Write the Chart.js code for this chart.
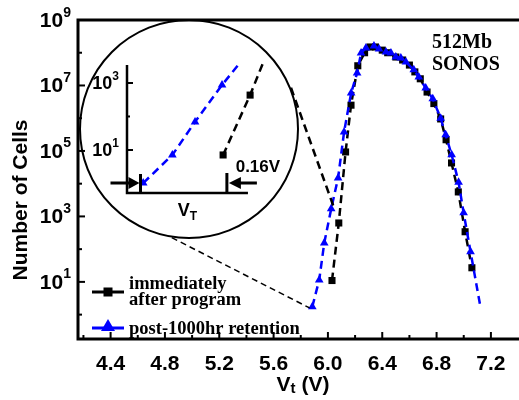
<!DOCTYPE html>
<html lang="en">
<head>
<meta charset="UTF-8">
<title>512Mb SONOS Vt distribution</title>
<style>
body { margin: 0; background: #fff; }
#wrap { position: relative; width: 519px; height: 400px; }
#inset { position: absolute; left: 79px; top: 19px; border-radius: 50%; }
</style>
</head>
<body>
<div id="wrap">
    <canvas id="main" width="519" height="400"></canvas>
    <canvas id="inset" width="220" height="220"></canvas>
</div>
<script src="https://cdn.jsdelivr.net/npm/chart.js@4/dist/chart.umd.min.js"></script>
<script>
// immediately after program
var blackVt    = [6.03, 6.08, 6.13, 6.17, 6.22, 6.27, 6.31, 6.35, 6.40, 6.44, 6.50, 6.55, 6.60, 6.64, 6.68, 6.73, 6.78, 6.83, 6.87, 6.91, 6.96, 7.01, 7.06];
var blackCells = [11, 630, 9.3e4, 2.5e6, 4.0e7, 1.0e8, 1.5e8, 1.5e8, 1.2e8, 1.0e8, 7.4e7, 6.0e7, 4.2e7, 2.6e7, 1.6e7, 6.3e6, 2.8e6, 9.5e5, 2.2e5, 4.3e4, 5.6e3, 340, 27];
// post-1000hr retention
var blueVt    = [5.885, 5.936, 5.973, 6.024, 6.075, 6.119, 6.171, 6.215, 6.244, 6.28, 6.339, 6.376, 6.427, 6.464, 6.50, 6.537, 6.574, 6.632, 6.669, 6.72, 6.772, 6.83, 6.867, 6.911, 6.962, 6.999, 7.05, 7.12];
var blueCells = [1.74, 11.5, 155, 1700, 1.5e4, 3.8e5, 5.9e6, 2.4e7, 9.8e7, 1.4e8, 1.6e8, 1.3e8, 1.05e8, 9.8e7, 7.4e7, 6.9e7, 5.2e7, 3.0e7, 1.8e7, 8.3e6, 3.9e6, 1.0e6, 3.1e5, 7.6e4, 1.1e4, 1300, 83, 2];

var xTickLabels = [4.4, 4.8, 5.2, 5.6, 6.0, 6.4, 6.8, 7.2];
var xMinorTicks = [4.2, 4.6, 5.0, 5.4, 5.8, 6.2, 6.6, 7.0];
var yTickExps = [1, 3, 5, 7, 9];
var yMinorExps = [0, 2, 4, 6, 8];

// inset (zoom of the low tail)
var insetBlueVt    = [5.880, 5.934, 5.976, 6.026, 6.056];
var insetBlueCells = [1.03, 7.1, 69, 870, 3440];
var insetBlackVt    = [6.028, 6.078, 6.102];
var insetBlackCells = [7.1, 435, 4000];
var insetYTickExps = [1, 3];
var insetShift = [5.875, 6.035];
var insetAxisEnd = 6.074;

var BLUE = 'rgb(0,0,255)';
var SANS = '"Liberation Sans", Arial, sans-serif';
var SERIF = '"Liberation Serif", "Times New Roman", serif';

function pts(xs, ys) {
    return xs.map(function (v, i) { return {x: v, y: ys[i]}; });
}

function powLabel(ctx, exp, right, base, size, expSize) {
    ctx.font = 'bold ' + size + 'px ' + SANS;
    var w1 = ctx.measureText('10').width;
    ctx.font = 'bold ' + expSize + 'px ' + SANS;
    var w2 = ctx.measureText(String(exp)).width;
    ctx.textAlign = 'left';
    ctx.textBaseline = 'alphabetic';
    ctx.font = 'bold ' + size + 'px ' + SANS;
    ctx.fillText('10', right - w2 - w1, base);
    ctx.font = 'bold ' + expSize + 'px ' + SANS;
    ctx.fillText(String(exp), right - w2, base - size * 0.5);
}

var mainDecor = {
    id: 'mainDecor',
    afterDraw: function (chart) {
        var ctx = chart.ctx, a = chart.chartArea;
        var xs = chart.scales.x, ys = chart.scales.y;
        ctx.save();
        ctx.strokeStyle = '#000';
        ctx.fillStyle = '#000';

        // frame (right side runs off the picture)
        ctx.lineWidth = 3;
        ctx.beginPath();
        ctx.moveTo(chart.width, a.top);
        ctx.lineTo(a.left, a.top);
        ctx.lineTo(a.left, a.bottom);
        ctx.lineTo(chart.width, a.bottom);
        ctx.stroke();

        // x ticks
        ctx.lineWidth = 2;
        xTickLabels.forEach(function (v) {
            var px = xs.getPixelForValue(v);
            ctx.beginPath(); ctx.moveTo(px, a.bottom); ctx.lineTo(px, a.bottom - 7); ctx.stroke();
            ctx.font = 'bold 21px ' + SANS;
            ctx.textAlign = 'center';
            ctx.textBaseline = 'alphabetic';
            ctx.fillText(v.toFixed(1), px, 370);
        });
        xMinorTicks.forEach(function (v) {
            var px = xs.getPixelForValue(v);
            ctx.beginPath(); ctx.moveTo(px, a.bottom); ctx.lineTo(px, a.bottom - 4); ctx.stroke();
        });

        // y ticks
        yTickExps.forEach(function (e) {
            var py = ys.getPixelForValue(Math.pow(10, e));
            ctx.beginPath(); ctx.moveTo(a.left, py); ctx.lineTo(a.left + 7, py); ctx.stroke();
            powLabel(ctx, e, 71, py + 7, 21, 14);
        });
        yMinorExps.forEach(function (e) {
            var py = ys.getPixelForValue(Math.pow(10, e));
            ctx.beginPath(); ctx.moveTo(a.left, py); ctx.lineTo(a.left + 4, py); ctx.stroke();
        });

        // axis titles
        ctx.font = 'bold 21px ' + SANS;
        var wV = ctx.measureText('V').width, wP = ctx.measureText(' (V)').width;
        ctx.font = 'bold 15px ' + SANS;
        var wt = ctx.measureText('t').width;
        var x0 = 303 - (wV + wt + wP) / 2;
        ctx.textAlign = 'left';
        ctx.font = 'bold 21px ' + SANS;
        ctx.fillText('V', x0, 391);
        ctx.font = 'bold 15px ' + SANS;
        ctx.fillText('t', x0 + wV, 393);
        ctx.font = 'bold 21px ' + SANS;
        ctx.fillText(' (V)', x0 + wV + wt, 391);

        ctx.save();
        ctx.translate(27, 200);
        ctx.rotate(-Math.PI / 2);
        ctx.textAlign = 'center';
        ctx.fillText('Number of Cells', 0, 0);
        ctx.restore();

        // device label
        ctx.font = 'bold 20px ' + SERIF;
        ctx.textAlign = 'left';
        ctx.fillText('512Mb', 432, 48);
        ctx.fillText('SONOS', 432, 70);

        // legend
        ctx.lineWidth = 3;
        ctx.setLineDash([]);
        ctx.beginPath(); ctx.moveTo(92, 292); ctx.lineTo(124, 292); ctx.stroke();
        ctx.fillRect(103.5, 287.5, 9, 9);
        ctx.strokeStyle = BLUE; ctx.fillStyle = BLUE;
        ctx.beginPath(); ctx.moveTo(92, 328); ctx.lineTo(124, 328); ctx.stroke();
        ctx.beginPath(); ctx.moveTo(108, 319); ctx.lineTo(115, 331); ctx.lineTo(101, 331); ctx.closePath(); ctx.fill();
        ctx.fillStyle = '#000'; ctx.strokeStyle = '#000';
        ctx.font = 'bold 18.5px ' + SERIF;
        ctx.fillText('immediately', 129, 289);
        ctx.fillText('after program', 129, 305);
        ctx.fillText('post-1000hr retention', 129, 334);

        // magnifier circle and guide lines
        var cx = 189, cy = 129, r = 109;
        ctx.lineWidth = 2;
        ctx.beginPath(); ctx.arc(cx, cy, r, 0, Math.PI * 2); ctx.stroke();

        ctx.setLineDash([8, 5]);
        ctx.lineWidth = 2.5;
        var g1 = -22 * Math.PI / 180;
        ctx.beginPath();
        ctx.moveTo(cx + (r + 1) * Math.cos(g1), cy + (r + 1) * Math.sin(g1));
        ctx.lineTo(xs.getPixelForValue(6.05), ys.getPixelForValue(1600));
        ctx.stroke();

        ctx.setLineDash([6, 4]);
        ctx.lineWidth = 1.5;
        var g2 = 99 * Math.PI / 180;
        ctx.beginPath();
        ctx.moveTo(cx + (r + 1) * Math.cos(g2), cy + (r + 1) * Math.sin(g2));
        ctx.lineTo(xs.getPixelForValue(5.865), ys.getPixelForValue(1.6));
        ctx.stroke();

        ctx.restore();
    }
};

new Chart(document.getElementById('main'), {
    type: 'scatter',
    data: {
        datasets: [
            {
                label: 'post-1000hr retention',
                data: pts(blueVt, blueCells),
                showLine: true,
                borderColor: BLUE,
                backgroundColor: BLUE,
                borderWidth: 2.5,
                borderDash: [8, 5],
                pointStyle: 'triangle',
                pointRadius: blueVt.map(function (v, i) { return i === blueVt.length - 1 ? 0 : 5; }),
                pointBorderWidth: 0
            },
            {
                label: 'immediately after program',
                data: pts(blackVt, blackCells),
                showLine: true,
                borderColor: '#000',
                backgroundColor: '#000',
                borderWidth: 2.5,
                borderDash: [8, 5],
                pointStyle: 'rect',
                pointRadius: 5,
                pointBorderWidth: 0
            }
        ]
    },
    options: {
        responsive: false,
        animation: false,
        devicePixelRatio: 1,
        layout: { padding: { left: 78, right: 3, top: 20, bottom: 61 } },
        plugins: { legend: { display: false }, tooltip: { enabled: false } },
        scales: {
            x: { type: 'linear', min: 4.16, max: 7.37, display: false },
            y: { type: 'logarithmic', min: 0.18, max: 1e9, display: false }
        }
    },
    plugins: [mainDecor]
});

var insetDecor = {
    id: 'insetDecor',
    afterDraw: function (chart) {
        var ctx = chart.ctx, a = chart.chartArea;
        var xs = chart.scales.x, ys = chart.scales.y;
        var xEnd = xs.getPixelForValue(insetAxisEnd);
        ctx.save();
        ctx.strokeStyle = '#000';
        ctx.fillStyle = '#000';
        ctx.lineWidth = 2.5;
        ctx.beginPath();
        ctx.moveTo(a.left, a.top);
        ctx.lineTo(a.left, a.bottom);
        ctx.lineTo(xEnd, a.bottom);
        ctx.stroke();

        ctx.lineWidth = 2;
        insetYTickExps.forEach(function (e) {
            var py = ys.getPixelForValue(Math.pow(10, e));
            ctx.beginPath(); ctx.moveTo(a.left, py); ctx.lineTo(a.left + 6, py); ctx.stroke();
            powLabel(ctx, e, a.left - 8, py + 6, 18, 12);
        });
        var pm = ys.getPixelForValue(100);
        ctx.beginPath(); ctx.moveTo(a.left, pm); ctx.lineTo(a.left + 3, pm); ctx.stroke();

        // 0.16V shift markers
        var bx1 = xs.getPixelForValue(insetShift[0]);
        var bx2 = xs.getPixelForValue(insetShift[1]);
        var ay = a.bottom - 10;
        ctx.lineWidth = 3;
        ctx.beginPath();
        ctx.moveTo(bx1, a.bottom - 19); ctx.lineTo(bx1, a.bottom);
        ctx.moveTo(bx2, a.bottom - 20); ctx.lineTo(bx2, a.bottom);
        ctx.moveTo(bx1 - 30, ay); ctx.lineTo(bx1 - 10, ay);
        ctx.moveTo(bx2 + 12, ay); ctx.lineTo(bx2 + 30, ay);
        ctx.stroke();
        ctx.beginPath();
        ctx.moveTo(bx1 - 1, ay); ctx.lineTo(bx1 - 12, ay - 6); ctx.lineTo(bx1 - 12, ay + 6); ctx.closePath();
        ctx.moveTo(bx2 + 2, ay); ctx.lineTo(bx2 + 14, ay - 6); ctx.lineTo(bx2 + 14, ay + 6); ctx.closePath();
        ctx.fill();

        ctx.font = 'bold 17px ' + SANS;
        ctx.textAlign = 'center';
        ctx.textBaseline = 'alphabetic';
        ctx.fillText('0.16V', bx2 + 31, a.bottom - 21);

        // V_T
        ctx.font = 'bold 18px ' + SANS;
        var wV = ctx.measureText('V').width;
        ctx.font = 'bold 12px ' + SANS;
        var wT = ctx.measureText('T').width;
        var cxT = (a.left + xEnd) / 2 - (wV + wT) / 2;
        ctx.textAlign = 'left';
        ctx.font = 'bold 18px ' + SANS;
        ctx.fillText('V', cxT, a.bottom + 23);
        ctx.font = 'bold 12px ' + SANS;
        ctx.fillText('T', cxT + wV, a.bottom + 27);
        ctx.restore();
    }
};

new Chart(document.getElementById('inset'), {
    type: 'scatter',
    data: {
        datasets: [
            {
                data: pts(insetBlueVt, insetBlueCells),
                showLine: true,
                clip: false,
                borderColor: BLUE,
                backgroundColor: BLUE,
                borderWidth: 2.5,
                borderDash: [8, 5],
                pointStyle: 'triangle',
                pointRadius: insetBlueVt.map(function (v, i) { return i === insetBlueVt.length - 1 ? 0 : 5; }),
                pointBorderWidth: 0
            },
            {
                data: pts(insetBlackVt, insetBlackCells),
                showLine: true,
                clip: false,
                borderColor: '#000',
                backgroundColor: '#000',
                borderWidth: 2.5,
                borderDash: [8, 5],
                pointStyle: 'rect',
                pointRadius: insetBlackVt.map(function (v, i) { return i === insetBlackVt.length - 1 ? 0 : 5; }),
                pointBorderWidth: 0
            }
        ]
    },
    options: {
        responsive: false,
        animation: false,
        devicePixelRatio: 1,
        // 540 px per volt; x range runs past the drawn axis end so the black tail stays visible
        layout: { padding: { left: 48, right: 26, top: 46, bottom: 46 } },
        plugins: { legend: { display: false }, tooltip: { enabled: false } },
        scales: {
            x: { type: 'linear', min: 5.85, max: 6.1204, display: false },
            y: { type: 'logarithmic', min: 0.52, max: 3440, display: false }
        }
    },
    plugins: [insetDecor]
});
</script>
</body>
</html>
